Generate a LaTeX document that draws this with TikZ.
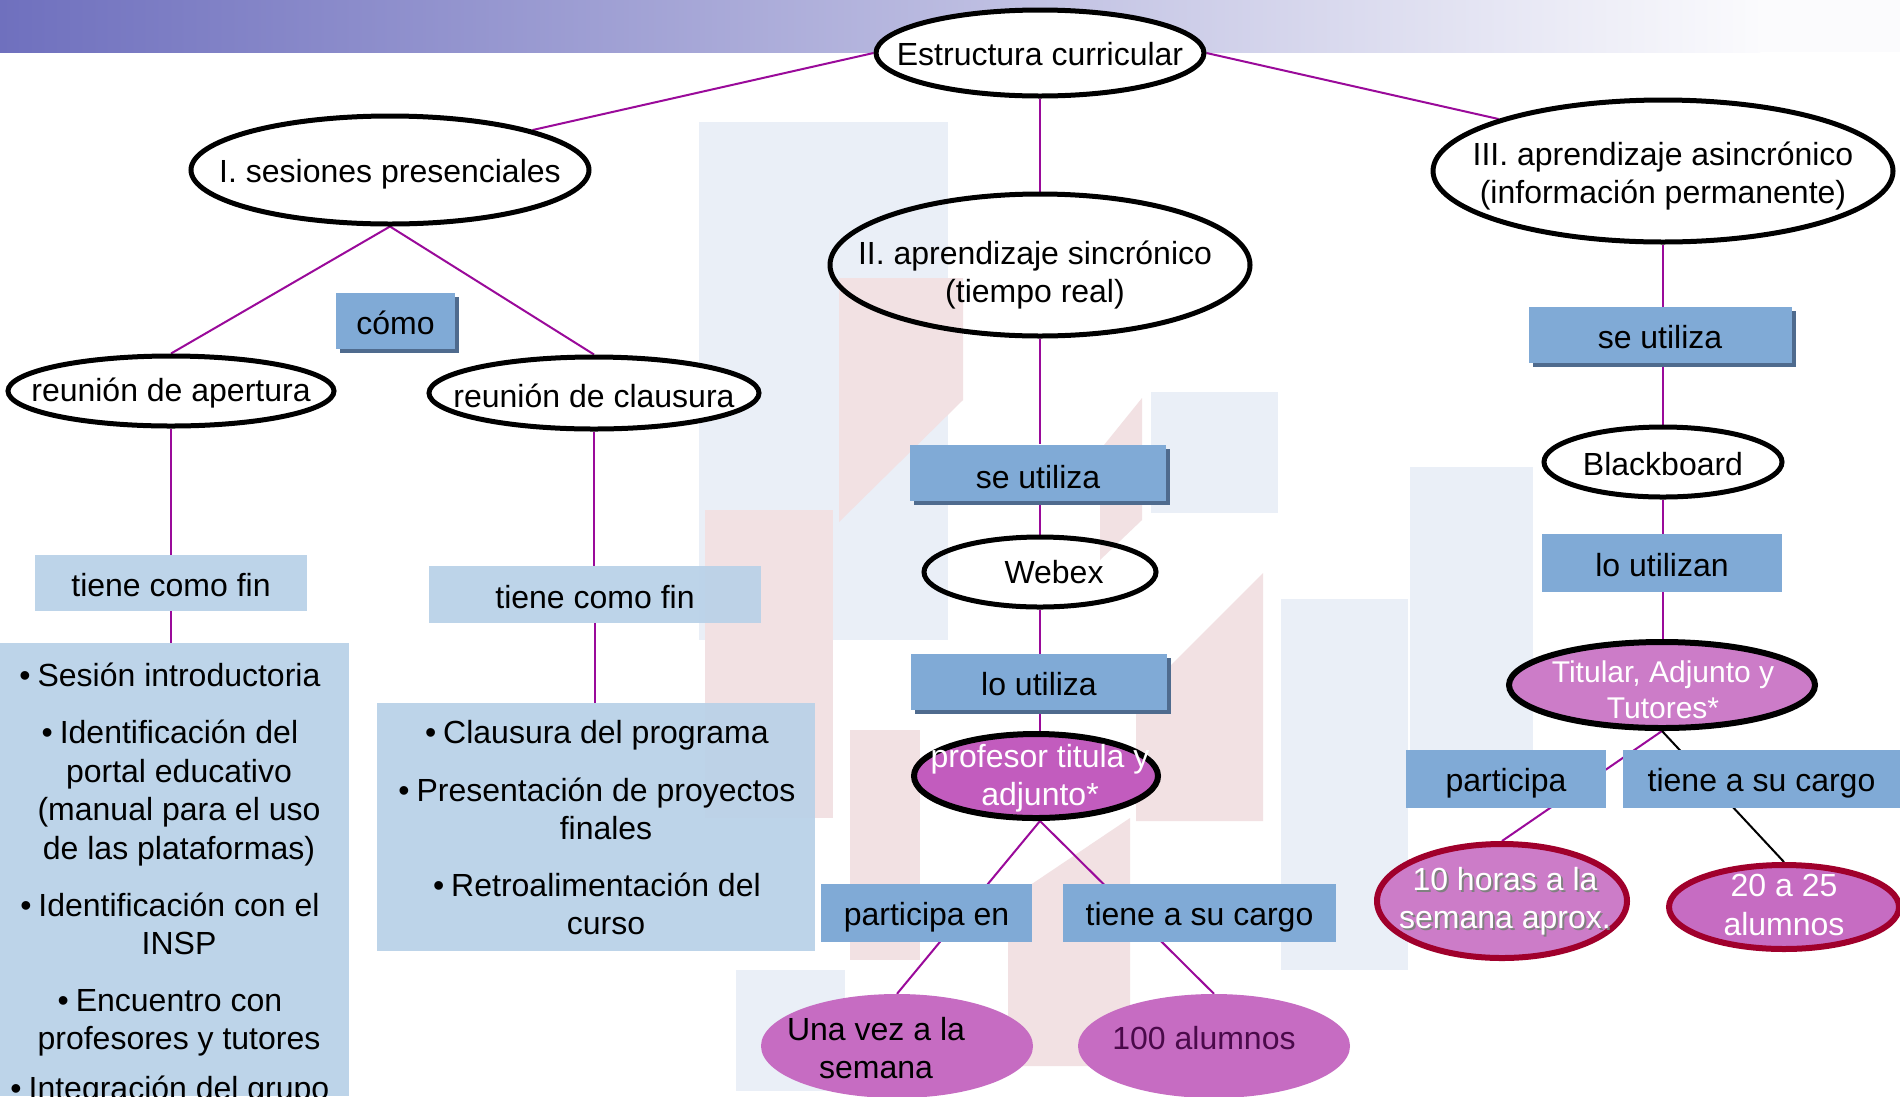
\documentclass[tikz,border=0pt]{standalone}
\usepackage{fontspec}
\setmainfont{Liberation Sans}
\usetikzlibrary{shapes.geometric,shadows}
\pgfdeclarelayer{deep}
\pgfdeclarelayer{background}
\pgfsetlayers{deep,background,main}
\definecolor{connc}{HTML}{9A0A9A}
\definecolor{medblue}{HTML}{80AAD6}
\definecolor{lightblue}{HTML}{B9D1E8}
\definecolor{shadowc}{HTML}{4F6B8E}
\definecolor{magA}{HTML}{C25CBE}
\definecolor{magB}{HTML}{CC7CC8}
\definecolor{magC}{HTML}{C66CC2}
\definecolor{redb}{HTML}{A0002C}
\definecolor{wmblue}{HTML}{EAEFF7}
\definecolor{wmpink}{HTML}{F2E1E3}
\definecolor{bannerL}{HTML}{6F70BE}
\definecolor{darkpurp}{HTML}{4A0A4A}
\begin{document}
\begin{tikzpicture}[x=1pt,y=-1pt,
  every node/.style={font=\fontsize{32}{38.4}\selectfont, inner sep=0pt, align=center},
  oval/.style={ellipse, draw=black, line width=5pt},
  boxtext/.style={text height=27pt, text depth=0pt},
  linkbox/.style={rectangle, fill=medblue, boxtext},
  shbox/.style={rectangle, fill=medblue, boxtext, drop shadow={shadow xshift=4pt,shadow yshift=-4pt,fill=shadowc,opacity=1}},
  softbox/.style={rectangle, fill=lightblue, fill opacity=0.93, text opacity=1},
  wire/.style={draw=connc, line width=2pt},
  bwire/.style={draw=black, line width=2pt},
]
\useasboundingbox (0,0) rectangle (1900,1096);

% ---------- background decoration ----------
\begin{pgfonlayer}{deep}
  \fill[white] (0,0) rectangle (1900,1096);
  \shade[left color=bannerL, right color=white!97!bannerL] (0,0) rectangle (1760,52);
  \fill[white!97!bannerL] (1760,0) rectangle (1900,52);
  \fill[wmblue] (699,122) rectangle (948,640);
  \fill[wmblue] (1151,392) rectangle (1278,513);
  \fill[wmblue] (1281,599) rectangle (1408,970);
  \fill[wmblue] (1410,467) rectangle (1533,750);
  \fill[wmblue] (872,532) rectangle (936,608);
  \fill[wmblue] (736,970) rectangle (845,1091);
  \fill[wmpink] (839,278) -- (963,278) -- (963,400) -- (839,522) -- cycle;
  \fill[wmpink] (705,510) rectangle (833,818);
  \fill[wmpink] (1136,700) -- (1263,573) -- (1263,821) -- (1136,821) -- cycle;
  \fill[wmpink] (1008,900) -- (1130,818) -- (1130,1066) -- (1008,1066) -- cycle;
  \fill[wmpink] (1100,450) -- (1142,398) -- (1142,520) -- (1100,560) -- cycle;
  \fill[wmpink] (850,730) rectangle (920,960);
\end{pgfonlayer}

% ---------- ellipses ----------
\node[oval, fill=white, minimum width=328pt, minimum height=86pt] (est) at (1040,53) {};
\node (estT) at (1040,54) {Estructura curricular};

\node[oval, fill=white, minimum width=398pt, minimum height=108pt] (ses) at (390,170) {};
\node (sesT) at (390,174) {I. sesiones presenciales};

\node[oval, minimum width=420pt, minimum height=142pt] (sin) at (1040,265) {};
\node (sinT) at (1035,275) {II. aprendizaje sincrónico\\(tiempo real)};

\node[oval, fill=white, minimum width=460pt, minimum height=142pt] (asin) at (1663,171) {};
\node (asinT) at (1663,176) {III. aprendizaje asincrónico\\(información permanente)};

\node[oval, fill=white, minimum width=326pt, minimum height=70pt] (rap) at (171,391) {};
\node (rapT) at (171,393) {reunión de apertura};

\node[oval, fill=white, minimum width=330pt, minimum height=72pt] (rcl) at (594,393) {};
\node (rclT) at (594,396) {reunión de clausura};

\node[oval, minimum width=232pt, minimum height=70pt] (web) at (1040,572) {};
\node (webT) at (1054,572) {Webex};

\node[oval, fill=white, minimum width=238pt, minimum height=70pt] (bb) at (1663,462) {};
\node (bbT) at (1663,464) {Blackboard};

\node[oval, fill=magA, line width=6pt, minimum width=244pt, minimum height=84pt] (prof) at (1036,776) {};
\node[text=white] (profT) at (1040,778) {profesor titula y\\adjunto*};

\node[oval, fill=magB, line width=6pt, minimum width=306pt, minimum height=86pt] (tit) at (1662,685) {};
\node[text=white, font=\fontsize{30}{35.5}\selectfont] (titT) at (1663,690) {Titular, Adjunto y\\Tutores*};

\node[oval, draw=redb, fill=magB, line width=6pt, minimum width=250pt, minimum height=114pt] (hrs) at (1502,901) {};
\node[text=gray] (hrsS) at (1507,903) {10 horas a la\\semana aprox.};
\node[text=white] (hrsT) at (1505,901) {10 horas a la\\semana aprox.};

\node[oval, draw=redb, fill=magC, line width=6pt, minimum width=230pt, minimum height=84pt] (veinte) at (1784,907) {};
\node[text=white] (veinteT) at (1784,905) {20 a 25\\alumnos};

\node[ellipse, fill=magC, minimum width=272pt, minimum height=104pt] (vez) at (897,1046) {};
\node (vezT) at (876,1048) {Una vez a la\\semana};

\node[ellipse, fill=magC, minimum width=272pt, minimum height=104pt] (alum) at (1214,1046) {};
\node[text=darkpurp] (alumT) at (1204,1038) {100 alumnos};

% ---------- linking boxes ----------
\node[shbox, minimum width=119pt, minimum height=56pt] (como) at (395.5,321) {cómo};
\node[softbox, boxtext, minimum width=272pt, minimum height=56pt] (fin1) at (171,583) {tiene como fin};
\node[softbox, boxtext, minimum width=332pt, minimum height=57pt] (fin2) at (595,594.5) {tiene como fin};

\node[shbox, text height=31pt, minimum width=256pt, minimum height=56pt] (seu1) at (1038,472.5) {se utiliza};
\node[shbox, minimum width=256pt, minimum height=56pt] (lout1) at (1039,682) {lo utiliza};
\node[linkbox, text height=24pt, minimum width=211pt, minimum height=58pt] (part1) at (926.5,913) {participa en};
\node[linkbox, text height=24pt, minimum width=273pt, minimum height=58pt] (carg1) at (1199.5,913) {tiene a su cargo};

\node[shbox, minimum width=263pt, minimum height=56pt] (seu2) at (1660,335) {se utiliza};
\node[linkbox, minimum width=240pt, minimum height=58pt] (lout2) at (1662,563) {lo utilizan};
\node[linkbox, text height=25pt, minimum width=200pt, minimum height=58pt] (part2) at (1506,779) {participa};
\node[linkbox, text height=25pt, minimum width=277pt, minimum height=58pt] (carg2) at (1761.5,779) {tiene a su cargo};

% ---------- bullet lists ----------
\node[softbox, minimum width=349pt, minimum height=453pt] (lst1) at (174.5,869.5) {};
\node (l1a) at (179,675) {\llap{•\hspace{7pt}}Sesión introductoria};
\node (l1b) at (179,793) {\llap{•\hspace{7pt}}Identificación del\\portal educativo\\(manual para el uso\\de las plataformas)};
\node (l1c) at (179,924) {\llap{•\hspace{7pt}}Identificación con el\\INSP};
\node (l1d) at (179,1023) {\llap{•\hspace{7pt}}Encuentro con\\profesores y tutores};
\node (l1e) at (179,1091) {\llap{•\hspace{7pt}}Integración del grupo};

\node[softbox, minimum width=438pt, minimum height=248pt] (lst2) at (596,827) {};
\node (l2a) at (606,735) {\llap{•\hspace{7pt}}Clausura del programa};
\node (l2b) at (606,809) {\llap{•\hspace{7pt}}Presentación de proyectos\\finales};
\node (l2c) at (606,904) {\llap{•\hspace{7pt}}Retroalimentación del\\curso};

% ---------- connectors ----------
\begin{pgfonlayer}{background}
  \draw[wire] (est.west) -- (ses.north east);
  \draw[wire] (est.east) -- (asin.north west);
  \draw[wire] (est.south) -- (est.south |- sin.north);
  \draw[wire] (ses.south) -- (rap.north);
  \draw[wire] (ses.south) -- (rcl.north);
  \draw[wire] (rap.south) -- (rap.south |- fin1.north);
  \draw[wire] (fin1.south) -- (fin1.south |- lst1.north);
  \draw[wire] (rcl.south) -- (rcl.south |- fin2.north);
  \draw[wire] (fin2.south) -- (fin2.south |- lst2.north);
  \draw[wire] (sin.south) -- (sin.south |- seu1.north);
  \draw[wire] (sin.south |- seu1.south) -- (sin.south |- web.north);
  \draw[wire] (web.south) -- (web.south |- lout1.north);
  \draw[wire] (web.south |- lout1.south) -- (web.south |- prof.north);
  \draw[wire] (prof.south -| web.south) -- (vez.north);
  \draw[wire] (prof.south -| web.south) -- (alum.north);
  \draw[wire] (asin.south) -- (asin.south |- seu2.north);
  \draw[wire] (asin.south |- seu2.south) -- (asin.south |- bb.north);
  \draw[wire] (bb.south) -- (bb.south |- lout2.north);
  \draw[wire] (bb.south |- lout2.south) -- (bb.south |- tit.north);
  \draw[wire] (tit.south) -- (hrs.north);
  \draw[bwire] (tit.south) -- (veinte.north);
\end{pgfonlayer}
\end{tikzpicture}
\end{document}
